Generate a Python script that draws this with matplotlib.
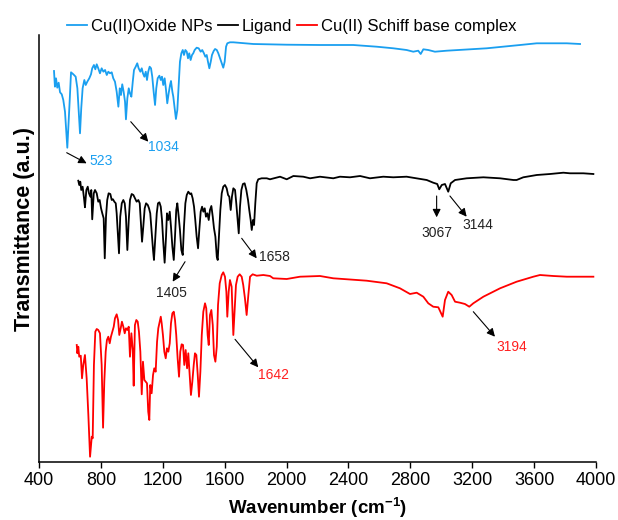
import matplotlib
matplotlib.use("Agg")
import matplotlib.pyplot as plt

plt.rcParams['font.family'] = ['Liberation Sans', 'DejaVu Sans']
plt.rcParams['mathtext.fontset'] = 'custom'
plt.rcParams['mathtext.rm'] = 'Liberation Sans'
plt.rcParams['mathtext.bf'] = 'Liberation Sans:bold'

# Cu(II)Oxide NPs (offset spectrum, arbitrary units)
blue_wn = [497, 503, 510, 518, 527, 536, 547, 557, 568, 576, 583, 589, 598, 607, 622, 637,
           648, 657, 665, 673, 682, 693, 702, 712, 725, 736, 744, 755, 764, 773, 783, 794,
           805, 816, 827, 838, 848, 859, 870, 880, 891, 902, 913, 922, 930, 938, 947, 956,
           962, 971, 980, 988, 997, 1006, 1014, 1025, 1035, 1044, 1055, 1064, 1072, 1081,
           1090, 1098, 1106, 1115, 1124, 1132, 1141, 1150, 1158, 1167, 1178, 1187, 1195,
           1203, 1212, 1221, 1229, 1238, 1247, 1253, 1262, 1268, 1277, 1285, 1294, 1303,
           1311, 1320, 1329, 1337, 1346, 1355, 1363, 1371, 1380, 1389, 1397, 1406, 1419,
           1432, 1445, 1455, 1466, 1475, 1484, 1492, 1501, 1510, 1518, 1529, 1538, 1549,
           1559, 1570, 1581, 1591, 1600, 1609, 1617, 1634, 1656,
           1785, 2001, 2216, 2431, 2583, 2690, 2776, 2819, 2851, 2867, 2884, 2916, 2959,
           3035, 3186, 3294, 3401, 3509, 3617, 3724, 3811, 3897]
blue_t = [391, 375.3, 383.7, 374.3, 379.3, 369.7, 367.7, 362, 350.3, 330.3, 314.3, 332,
          360.3, 389.7, 387.7, 385.3, 373.7, 350.3, 328.7, 353.7, 373.7, 382, 377, 380.3,
          383.7, 387.7, 393.7, 397, 392.7, 397.7, 393.7, 388.7, 393.7, 390.3, 392, 387,
          390.3, 388.7, 389.7, 383.7, 380.3, 370.3, 355.3, 373.7, 367, 377.7, 370.3, 360.3,
          342.7, 363.7, 373.7, 368.7, 365.3, 380.3, 392, 395.3, 398.7, 393.7, 390.3, 393.7,
          388.7, 385.3, 390.3, 382, 390.3, 395.3, 393.7, 385.3, 370.3, 357, 373.7, 383.7,
          386.3, 382, 385.3, 377, 383.7, 372, 358.7, 368.7, 377, 381, 370.3, 365.3, 353.7,
          343, 352, 377, 400.3, 408.7, 412, 407, 412, 410.3, 403.7, 408.7, 402, 407, 408.7,
          412, 414.3, 413.7, 410.3, 412, 408.7, 405.3, 407, 400.3, 393.7, 400.3, 407, 411,
          413, 412, 408.7, 403.7, 398.7, 394.3, 400.3, 415.3, 418.7, 419.7, 419.7,
          418, 417.3, 417, 417, 415.3, 413.7, 412, 410.3, 411.3, 408, 412.7, 412, 410.3,
          411.3, 412.7, 413.7, 415.3, 417, 418.7, 418.7, 418.7, 418]

# Ligand
black_wn = [654, 660, 667, 673, 682, 691, 697, 706, 715, 723, 732, 738, 744, 754, 762, 773,
            783, 792, 801, 809, 818, 825, 833, 841, 850, 861, 870, 878, 887, 896, 902, 911,
            917, 925, 935, 945, 954, 962, 971, 980, 988, 999, 1010, 1020, 1031, 1042, 1051,
            1059, 1066, 1074, 1083, 1092, 1103, 1111, 1119, 1128, 1137, 1143, 1152, 1161,
            1169, 1178, 1187, 1195, 1203, 1212, 1221, 1227, 1236, 1245, 1253, 1262, 1271,
            1279, 1287, 1294, 1303, 1311, 1320, 1329, 1337, 1346, 1355, 1365, 1376, 1384,
            1393, 1402, 1410, 1419, 1428, 1436, 1445, 1454, 1462, 1471, 1479, 1488, 1497,
            1505, 1514, 1523, 1531, 1540, 1549, 1555, 1563, 1572, 1581, 1591, 1602, 1613,
            1622, 1630, 1639, 1647, 1656, 1667, 1675, 1684, 1691, 1699, 1708, 1718, 1729,
            1740, 1751, 1759, 1768, 1775, 1783, 1790, 1798, 1807, 1817, 1839, 1872,
            1893, 1958, 2001, 2044, 2108, 2152, 2216, 2302, 2345, 2410, 2475, 2539, 2625,
            2690, 2776, 2841, 2906, 2948, 2974, 2987, 3003, 3024, 3045, 3061, 3089, 3164,
            3272, 3380, 3466, 3487, 3530, 3617, 3703, 3789, 3832, 3918, 3983]
black_t = [281.3, 277, 280.3, 272, 275.3, 263.7, 254.7, 272, 275.3, 268.7, 265.3, 272, 242.7,
           268.7, 272, 268.7, 260.3, 262, 253.7, 248.7, 243.7, 203.7, 245.3, 262, 268.7, 268,
           262, 262.7, 260.3, 258.7, 248.7, 225.3, 208.7, 245.3, 258.7, 262, 258.7, 245.3,
           212, 242, 262, 268, 267, 263.7, 260.3, 262, 258.7, 238.7, 220.3, 235.3, 253.7,
           258.7, 257, 253.7, 248.7, 230.3, 212, 202, 225.3, 248.7, 258.7, 259.7, 255.3, 242,
           220.3, 199.3, 225.3, 248.7, 242, 250.3, 235.3, 215.3, 202, 225.3, 252, 258.7,
           245.3, 232, 212, 207, 235.3, 258.7, 267, 270.3, 268, 268.7, 263.7, 255.3, 242,
           225.3, 213.7, 232, 250.3, 255.3, 250.3, 253.7, 245.3, 248.7, 242, 252, 256, 245.3,
           233.7, 225.3, 205.3, 202, 225.3, 252, 268.7, 275.3, 277, 273.7, 267, 265.3, 252,
           265.3, 273.7, 272, 258.7, 242, 228.7, 255.3, 272, 278, 278.7, 272, 262, 252, 242,
           232, 242, 237, 258.7, 278.7, 282.7, 283.7, 283.7,
           282.7, 285.3, 282.7, 286, 285.3, 283.7, 285.3, 283.7, 285.3, 284.7, 286, 283.7,
           285.3, 284.7, 285.3, 283.7, 282, 279.3, 278, 272.7, 277, 278, 270.3, 278.7, 282,
           283.7, 284.7, 283.7, 282, 282, 284.7, 287, 288, 289.3, 288.7, 288.7, 288]

# Cu(II) Schiff base complex
red_wn = [644, 648, 654, 660, 670, 678, 686, 697, 708, 719, 730, 741, 747, 755, 764, 773, 783,
          794, 805, 814, 822, 831, 839, 848, 857, 865, 874, 883, 891, 902, 911, 919, 928, 936,
          945, 954, 962, 971, 980, 988, 997, 1006, 1012, 1020, 1029, 1038, 1046, 1055, 1064,
          1072, 1081, 1090, 1098, 1106, 1113, 1119, 1128, 1137, 1145, 1154, 1163, 1171, 1178,
          1187, 1193, 1201, 1210, 1219, 1227, 1236, 1245, 1253, 1262, 1271, 1279, 1287, 1296,
          1305, 1313, 1322, 1331, 1339, 1348, 1357, 1365, 1374, 1382, 1391, 1400, 1408, 1417,
          1426, 1434, 1443, 1452, 1462, 1473, 1481, 1490, 1497, 1505, 1514, 1523, 1531, 1540,
          1549, 1557, 1568, 1581, 1591, 1602, 1611, 1617, 1626, 1634, 1645, 1656, 1665, 1673,
          1684, 1697, 1710, 1720, 1731, 1742, 1753, 1764, 1781, 1807, 1850, 1893, 1914, 2001,
          2087, 2216, 2302, 2518, 2647, 2733, 2798, 2841, 2884, 2916, 2948, 2981, 3009, 3024,
          3045, 3067, 3089, 3121, 3153, 3181, 3207, 3272, 3380, 3487, 3595, 3638, 3724, 3811,
          3983]
red_t = [117, 108.7, 115.3, 105.3, 106.3, 83.7, 97, 107, 83.7, 47, 5.3, 25.3, 23.7, 97, 130.3,
         133, 132, 128.7, 97, 34.3, 80.3, 110.3, 122, 125.3, 118.7, 125.3, 130.3, 135.3, 143.7,
         147.7, 142, 127, 133.7, 140.3, 135.3, 128.7, 133.7, 132, 135.3, 105.3, 128.7, 112,
         76.3, 137, 142, 140.3, 130.3, 110.3, 67.7, 100.3, 82, 80.3, 78.7, 50.3, 42, 77, 68.7,
         87, 93.7, 90.3, 120.3, 133.7, 138.7, 145.3, 138.7, 127, 110.3, 103.7, 113.7, 110.3,
         118.7, 138.7, 148.7, 150.3, 142, 127, 103.7, 85.3, 110.3, 117.7, 117, 97, 112, 93.7,
         108.7, 87, 67, 80.3, 97, 108.7, 107, 87, 65.3, 90.3, 127, 150.3, 158.7, 153.7, 127,
         117, 147, 152, 137, 107, 100.3, 115.3, 157, 178.7, 187, 189.7, 185.3, 170.3, 145.3,
         170.3, 182, 175.3, 127, 153.7, 177, 185.3, 187.7, 185.3, 177, 163.7, 147, 167, 185.3,
         187.7, 186.3, 187, 186, 183.7, 183, 185.3, 186, 183.7, 181.3, 178.7, 173.7, 168,
         169.3, 165.3, 158.7, 155.3, 154.7, 145.3, 162, 170.3, 167, 160.3, 159.3, 158, 155.3,
         158.7, 165.3, 173.7, 180.3, 185.3, 187, 186, 185.3, 185.3]

series = [
    (blue_wn, blue_t, '#1a9ff0', 'Cu(II)Oxide NPs'),
    (black_wn, black_t, 'black', 'Ligand'),
    (red_wn, red_t, '#ff0000', 'Cu(II) Schiff base complex'),
]

# peak labels: text, arrow tail, arrow head, text position, alignment, colour
peaks = [
    ('523', (579, 309.3), (708, 298.7), (723, 301), 'left', '#1a9ff0'),
    ('1034', (993, 340.3), (1106, 320.3), (1104, 315), 'left', '#1a9ff0'),
    ('1405', (1344, 200.3), (1264, 180.3), (1253, 168.7), 'center', '#222222'),
    ('1658', (1710, 223.7), (1807, 203.7), (1822, 205.3), 'left', '#222222'),
    ('3067', (2970, 266), (2970, 244.7), (2970, 229.3), 'center', '#222222'),
    ('3144', (3056, 266), (3164, 245.3), (3239, 237), 'center', '#222222'),
    ('1642', (1667, 122.7), (1817, 94.7), (1815, 87), 'left', '#ff2020'),
    ('3194', (3207, 150.3), (3347, 125.3), (3455, 114.7), 'center', '#ff2020'),
]

fig = plt.figure(figsize=(6.18, 5.2), dpi=100)
ax = fig.add_axes([39 / 618, 1 - 462 / 520, 557 / 618, 427 / 520])

for wn, t, c, lab in series:
    ax.plot(wn, t, color=c, lw=1.3, label=lab)

for txt, tail, head, tpos, ha, c in peaks:
    ax.annotate('', xy=head, xytext=tail,
                arrowprops=dict(arrowstyle='-|>', color='black', lw=0.8,
                                mutation_scale=12, shrinkA=0, shrinkB=0))
    ax.text(tpos[0], tpos[1], txt, color=c, fontsize=10, ha=ha, va='center')

ax.set_xlim(400, 4000)
ax.set_ylim(0, 427)
ax.set_xticks(range(400, 4001, 400))
ax.set_yticks([])
ax.tick_params(axis='x', direction='out', length=4, width=1, labelsize=13)
for s in ['top', 'right']:
    ax.spines[s].set_visible(False)
for s in ['left', 'bottom']:
    ax.spines[s].set_linewidth(1.1)

ax.set_xlabel(r'Wavenumber (cm$^{\mathbf{-1}}$)', fontsize=13.5, fontweight='bold', labelpad=4)
ax.set_ylabel('Transmittance (a.u.)', fontsize=15.5, fontweight='bold')
ax.yaxis.set_label_coords(-0.008, 0.545)

fig.legend(loc='center left', bbox_to_anchor=(67 / 618, 1 - 26 / 520), ncol=3,
           frameon=False, fontsize=12, handlelength=1.2, handletextpad=0.25,
           columnspacing=0.3, borderpad=0, borderaxespad=0)

fig.savefig('out.png', dpi=100)
